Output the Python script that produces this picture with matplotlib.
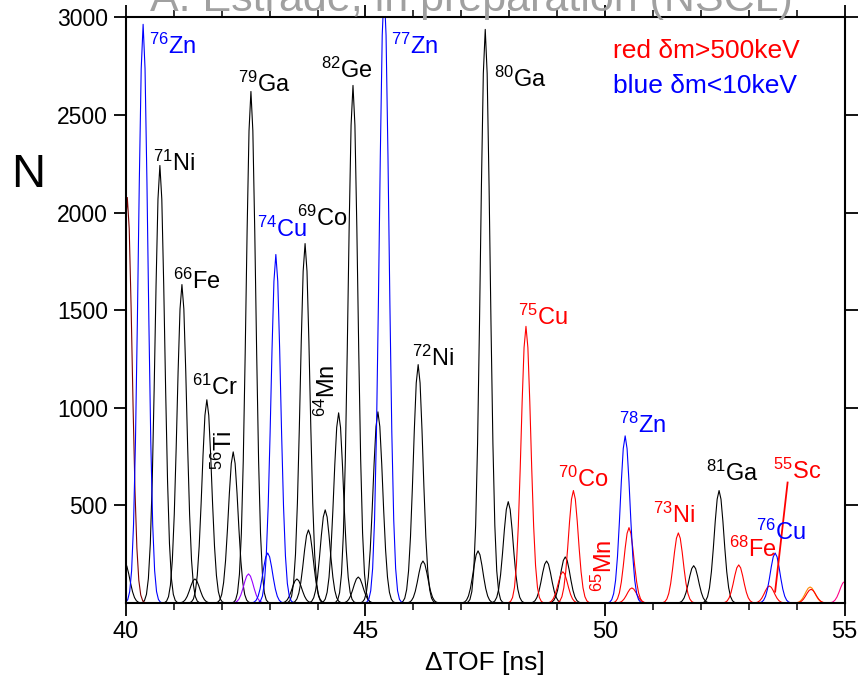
import numpy as np
import matplotlib
matplotlib.use("Agg")
import matplotlib.pyplot as plt
from matplotlib.ticker import MultipleLocator

plt.rcParams["font.family"] = ["Liberation Sans", "DejaVu Sans"]
plt.rcParams["mathtext.fontset"] = "custom"
plt.rcParams["mathtext.rm"] = "Liberation Sans"
plt.rcParams["mathtext.it"] = "Liberation Sans:italic"

# peak centres [ns] and peak counts
black_pos = [39.98, 40.71, 41.17, 41.44, 41.69, 42.24, 42.61, 43.57, 43.74, 43.81,
             44.16, 44.44, 44.74, 44.85, 45.26, 46.10, 46.20, 47.35, 47.50, 47.98,
             48.78, 49.17, 51.85, 52.38]
black_cnt = [205, 2241, 1631, 123, 1041, 774, 2620, 123, 1841, 374,
             477, 974, 2651, 133, 979, 1221, 215, 267, 2938, 519,
             215, 236, 191, 576]

blue_pos = [40.36, 42.96, 43.13, 45.39, 50.42, 53.55]
blue_cnt = [2964, 256, 1785, 3150, 856, 256]

red_pos = [48.35, 49.12, 49.34, 50.50, 50.56, 51.53, 52.79, 53.43, 54.30]
red_cnt = [1417, 160, 576, 386, 77, 359, 195, 87, 70]

brown_pos = [40.03]
brown_cnt = [2077]
purple_pos = [42.56]
purple_cnt = [149]
orange_pos = [54.28]
orange_cnt = [82]
magenta_pos = [55.0]
magenta_cnt = [110]

# isotope labels: text, x [ns], y [counts], colour, rotation
label_text = ["$^{76}$Zn", "$^{71}$Ni", "$^{66}$Fe", "$^{61}$Cr", "$^{56}$Ti",
              "$^{79}$Ga", "$^{74}$Cu", "$^{69}$Co", "$^{64}$Mn", "$^{82}$Ge",
              "$^{77}$Zn", "$^{72}$Ni", "$^{80}$Ga", "$^{75}$Cu", "$^{70}$Co",
              "$^{65}$Mn", "$^{78}$Zn", "$^{73}$Ni", "$^{81}$Ga", "$^{68}$Fe",
              "$^{76}$Cu", "$^{55}$Sc"]
label_x = [40.49, 40.57, 40.98, 41.39, 42.21, 42.35, 42.73, 43.57, 44.37, 44.07,
           45.53, 45.97, 47.69, 48.19, 49.01, 50.14, 50.29, 51.01, 52.10, 52.58,
           53.15, 53.50]
label_y = [2810, 2212, 1609, 1067, 682, 2617, 1875, 1930, 955, 2691,
           2810, 1212, 2645, 1426, 596, 58, 870, 409, 626, 234,
           323, 634]
label_color = ["blue", "black", "black", "black", "black",
               "black", "blue", "black", "black", "black",
               "blue", "black", "black", "red", "red",
               "red", "blue", "red", "black", "red",
               "blue", "red"]
label_rot = [0, 0, 0, 0, 90, 0, 0, 0, 90, 0, 0, 0, 0, 0, 0, 90, 0, 0, 0, 0, 0, 0]

sc_pointer_x = [53.81, 53.55]
sc_pointer_y = [617, 58]

SIGMA = 0.1
BIN = 0.04


def draw_peaks(ax, centres, counts, color):
    for c, h in zip(centres, counts):
        x = np.arange(c - 0.44, c + 0.44 + 1e-9, BIN)
        y = h * np.exp(-0.5 * ((x - c) / SIGMA) ** 2)
        ax.plot(x, y, color=color, lw=0.8)


fig = plt.figure(figsize=(8.58, 6.86), dpi=100)
ax = fig.add_axes([0.1467, 0.121, 0.8377, 0.8538])

draw_peaks(ax, black_pos, black_cnt, "black")
draw_peaks(ax, brown_pos, brown_cnt, "#7a0000")
draw_peaks(ax, purple_pos, purple_cnt, "#9900ff")
draw_peaks(ax, orange_pos, orange_cnt, "#ff8800")
draw_peaks(ax, red_pos, red_cnt, "red")
draw_peaks(ax, blue_pos, blue_cnt, "blue")
draw_peaks(ax, magenta_pos, magenta_cnt, "#ff0088")

ax.plot(sc_pointer_x, sc_pointer_y, color="red", lw=1.3)

for t, x, y, c, r in zip(label_text, label_x, label_y, label_color, label_rot):
    ax.text(x, y, t, color=c, fontsize=17, rotation=r, rotation_mode="anchor",
            ha="left", va="baseline")

ax.text(50.16, 2790, "red δm>500keV", color="red", fontsize=19, va="baseline")
ax.text(50.16, 2614, "blue δm<10keV", color="blue", fontsize=19, va="baseline")

ax.set_xlim(40, 55)
ax.set_ylim(0, 3000)
ax.xaxis.set_major_locator(MultipleLocator(5))
ax.xaxis.set_minor_locator(MultipleLocator(1))
ax.set_yticks([500, 1000, 1500, 2000, 2500, 3000])
ax.tick_params(axis="both", which="major", direction="out", length=9, width=1.3,
               top=True, right=True)
ax.tick_params(axis="both", which="minor", direction="out", length=5, width=1.1,
               top=True)
ax.tick_params(axis="x", labelsize=17, pad=4)
ax.tick_params(axis="y", labelsize=16.5, pad=4)
for s in ax.spines.values():
    s.set_linewidth(1.5)

ax.set_xlabel("ΔTOF [ns]", fontsize=19, labelpad=6)
fig.text(0.033, 0.745, "N", fontsize=34, ha="center", va="center")
fig.text(0.175, 0.984, "A. Estrade, in preparation (NSCL)", fontsize=31,
         color="#a0a0a0", va="baseline")

fig.savefig("out.png", dpi=100)
